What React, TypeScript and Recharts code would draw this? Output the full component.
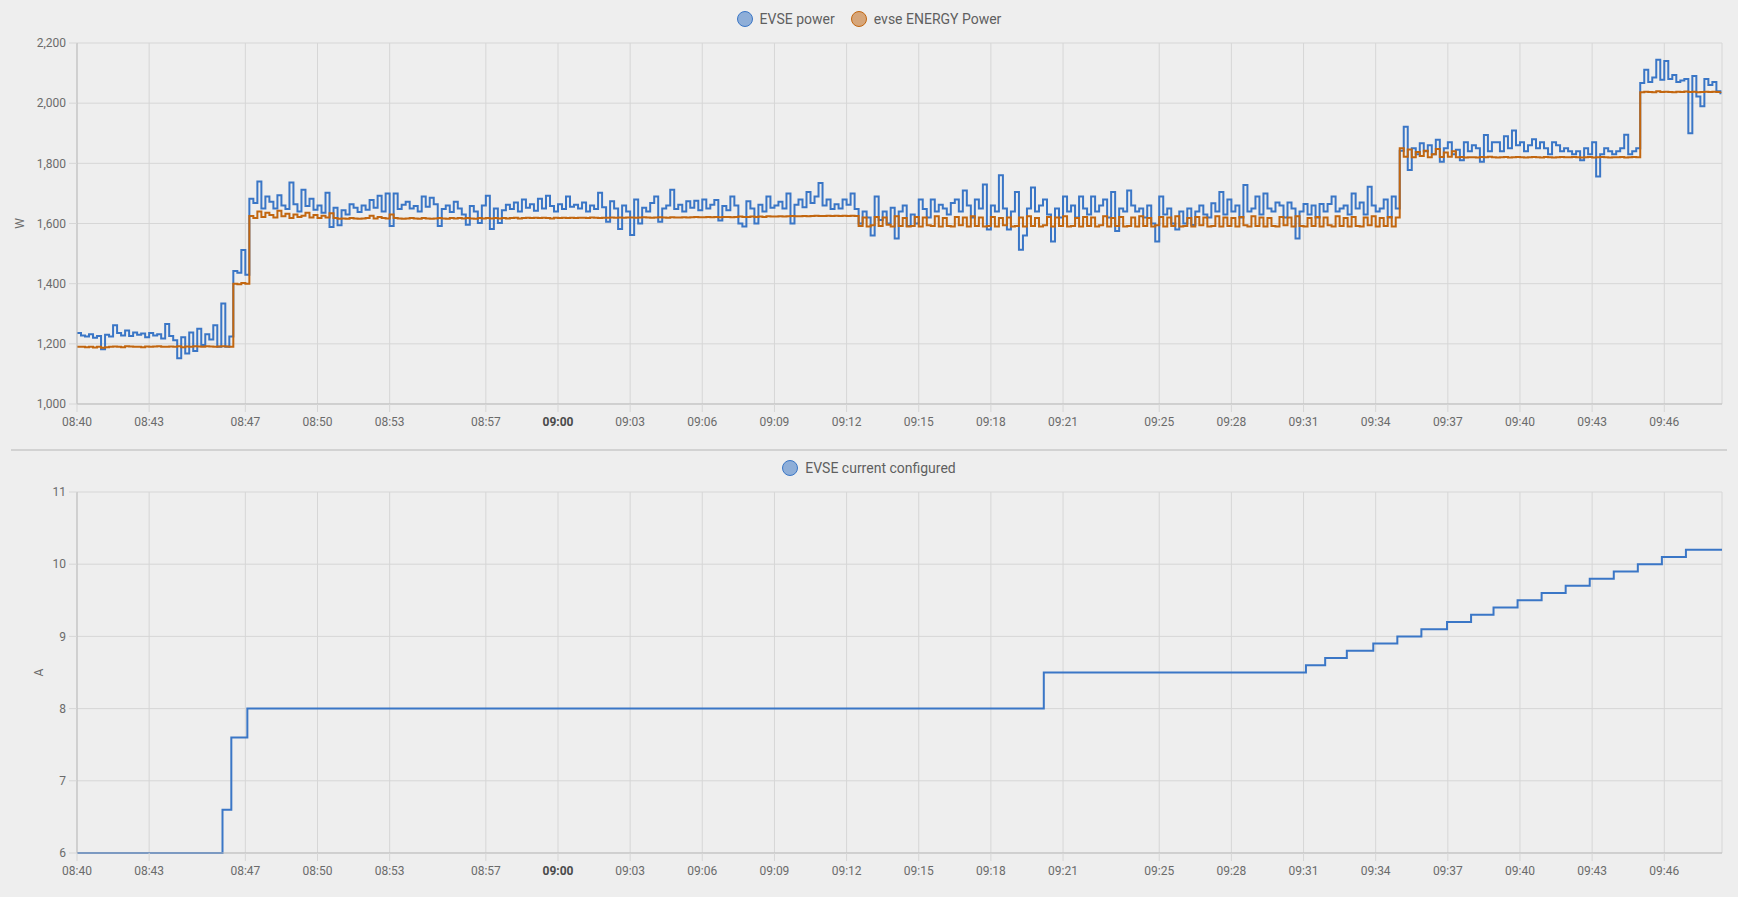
import React from "react";
import { LineChart, Line, XAxis, YAxis, CartesianGrid } from "recharts";

// --- data -------------------------------------------------------------------

// x axis tick labels (time of day)
const timeTickLabels = [
  "08:40", "08:43", "08:47", "08:50", "08:53", "08:57", "09:00", "09:03", "09:06", "09:09", "09:12",
  "09:15", "09:18", "09:21", "09:25", "09:28", "09:31", "09:34", "09:37", "09:40", "09:43", "09:46",
];
const powerTicks = [1000, 1200, 1400, 1600, 1800, 2000, 2200];
const currentTicks = [6, 7, 8, 9, 10, 11];

// power samples, one every 10 s starting 08:40:00 (six per row = one minute)
const SAMPLE_START = "08:40:00";
const SAMPLE_SECONDS = 10;
const AXIS_END = "09:48:24";

const evsePower = [
  1236, 1228, 1224, 1232, 1220, 1226,
  1182, 1230, 1224, 1262, 1236, 1228,
  1244, 1226, 1238, 1230, 1234, 1222,
  1236, 1228, 1232, 1218, 1266, 1226,
  1212, 1152, 1222, 1168, 1238, 1176,
  1250, 1196, 1232, 1214, 1262, 1190,
  1334, 1190, 1224, 1442, 1436, 1512,
  1430, 1682, 1668, 1740, 1650, 1690,
  1672, 1650, 1694, 1660, 1648, 1736,
  1664, 1640, 1712, 1658, 1682, 1646,
  1660, 1636, 1702, 1588, 1652, 1594,
  1644, 1630, 1664, 1652, 1638, 1660,
  1646, 1678, 1652, 1692, 1640, 1700,
  1592, 1700, 1648, 1662, 1672, 1650,
  1658, 1640, 1690, 1656, 1686, 1664,
  1592, 1648, 1660, 1638, 1672, 1650,
  1630, 1596, 1658, 1640, 1602, 1660,
  1692, 1582, 1650, 1602, 1644, 1662,
  1648, 1670, 1640, 1680, 1652, 1664,
  1642, 1682, 1650, 1692, 1658, 1640,
  1664, 1648, 1690, 1656, 1662, 1650,
  1670, 1640, 1660, 1648, 1702, 1654,
  1606, 1674, 1650, 1582, 1660, 1640,
  1562, 1680, 1600, 1652, 1640, 1668,
  1690, 1606, 1650, 1660, 1712, 1648,
  1662, 1640, 1674, 1652, 1676, 1644,
  1680, 1650, 1662, 1678, 1610, 1658,
  1644, 1690, 1660, 1600, 1590, 1674,
  1650, 1600, 1662, 1640, 1690, 1652,
  1660, 1672, 1650, 1700, 1600, 1662,
  1680, 1654, 1705, 1668, 1690, 1735,
  1660, 1680, 1648, 1664, 1650, 1680,
  1662, 1700, 1648, 1600, 1640, 1620,
  1560, 1690, 1612, 1640, 1600, 1652,
  1550, 1640, 1660, 1592, 1630, 1600,
  1680, 1648, 1620, 1680, 1640, 1662,
  1650, 1630, 1668, 1680, 1640, 1710,
  1660, 1620, 1680, 1650, 1730, 1580,
  1660, 1640, 1760, 1650, 1580, 1640,
  1705, 1513, 1560, 1650, 1720, 1640,
  1660, 1680, 1630, 1540, 1650, 1620,
  1690, 1640, 1660, 1620, 1690, 1650,
  1630, 1690, 1640, 1660, 1680, 1620,
  1705, 1575, 1650, 1640, 1710, 1660,
  1640, 1650, 1620, 1660, 1600, 1540,
  1690, 1630, 1650, 1600, 1580, 1640,
  1600, 1650, 1595, 1640, 1660, 1630,
  1620, 1667, 1640, 1705, 1630, 1680,
  1640, 1660, 1620, 1728, 1640, 1650,
  1690, 1630, 1700, 1650, 1640, 1670,
  1660, 1620, 1670, 1650, 1550, 1640,
  1665, 1630, 1660, 1620, 1665, 1640,
  1665, 1690, 1640, 1650, 1660, 1630,
  1700, 1650, 1670, 1630, 1722, 1660,
  1640, 1650, 1680, 1620, 1690, 1650,
  1842, 1922, 1778, 1850, 1830, 1867,
  1840, 1860, 1830, 1878, 1805, 1850,
  1870, 1830, 1845, 1810, 1870, 1840,
  1860, 1850, 1805, 1894, 1840, 1870,
  1870, 1840, 1890, 1850, 1909, 1860,
  1870, 1840, 1860, 1880, 1850, 1870,
  1850, 1830, 1870, 1860, 1840, 1850,
  1840, 1830, 1840, 1810, 1850, 1830,
  1870, 1756, 1830, 1850, 1840, 1830,
  1840, 1850, 1895, 1830, 1840, 1850,
  2067, 2111, 2070, 2085, 2144, 2078,
  2140, 2080, 2094, 2070, 2075, 2080,
  1900, 2090, 2022, 1990, 2080, 2060,
  2070, 2040, 2030,
];

const energyPower = [
  1190, 1190, 1189, 1190, 1188, 1190,
  1187, 1189, 1190, 1191, 1190, 1189,
  1192, 1191, 1190, 1190, 1189, 1191,
  1190, 1191, 1192, 1190, 1190, 1191,
  1190, 1192, 1189, 1191, 1190, 1192,
  1191, 1190, 1192, 1191, 1190, 1191,
  1192, 1191, 1190, 1400, 1398, 1402,
  1400, 1625, 1618, 1640, 1622, 1636,
  1628, 1620, 1642, 1624, 1632, 1618,
  1630, 1622, 1626, 1636, 1620, 1628,
  1618, 1626, 1620, 1634, 1618, 1616,
  1617, 1616, 1618, 1617, 1616, 1617,
  1618, 1626, 1617, 1622, 1618, 1617,
  1630, 1618, 1617, 1616, 1617, 1618,
  1617, 1616, 1618, 1617, 1616, 1617,
  1618, 1617, 1616, 1618, 1617, 1618,
  1617, 1618, 1617, 1616, 1618, 1617,
  1618, 1617, 1618, 1617, 1618, 1617,
  1618, 1619, 1617, 1618, 1619, 1618,
  1619, 1618, 1619, 1618, 1617, 1619,
  1618, 1619, 1618, 1619, 1618, 1619,
  1619, 1618, 1620, 1619, 1618, 1619,
  1619, 1620, 1619, 1620, 1619, 1620,
  1620, 1619, 1620, 1621, 1620, 1619,
  1620, 1621, 1620, 1619, 1621, 1620,
  1620, 1621, 1620, 1621, 1622, 1621,
  1621, 1622, 1621, 1622, 1621, 1622,
  1622, 1621, 1622, 1623, 1622, 1622,
  1623, 1622, 1623, 1622, 1624, 1623,
  1623, 1624, 1623, 1624, 1625, 1624,
  1624, 1625, 1624, 1625, 1626, 1625,
  1625, 1626, 1625, 1626, 1625, 1626,
  1625, 1626, 1625, 1592, 1620, 1590,
  1594, 1622, 1592, 1620, 1596, 1590,
  1624, 1592, 1618, 1590, 1592, 1622,
  1590, 1620, 1594, 1592, 1624, 1590,
  1618, 1592, 1590, 1622, 1594, 1620,
  1590, 1624, 1592, 1620, 1590, 1592,
  1622, 1590, 1618, 1594, 1620, 1590,
  1592, 1620, 1590, 1624, 1592, 1618,
  1590, 1594, 1622, 1590, 1620, 1592,
  1624, 1590, 1592, 1618, 1590, 1622,
  1592, 1620, 1590, 1594, 1624, 1590,
  1618, 1592, 1622, 1590, 1592, 1620,
  1590, 1624, 1592, 1618, 1590, 1594,
  1622, 1590, 1620, 1592, 1624, 1590,
  1592, 1618, 1590, 1622, 1594, 1620,
  1590, 1592, 1624, 1590, 1620, 1592,
  1618, 1590, 1622, 1594, 1590, 1624,
  1592, 1620, 1590, 1618, 1592, 1590,
  1622, 1594, 1620, 1590, 1624, 1592,
  1590, 1618, 1592, 1622, 1590, 1620,
  1594, 1590, 1624, 1592, 1618, 1590,
  1622, 1592, 1590, 1620, 1594, 1624,
  1590, 1618, 1592, 1622, 1590, 1620,
  1850, 1822, 1846, 1820, 1838, 1824,
  1842, 1820, 1830, 1848, 1821, 1836,
  1822, 1840, 1820, 1821, 1819, 1820,
  1820, 1819, 1821, 1820, 1822, 1820,
  1819, 1820, 1821, 1819, 1820, 1821,
  1820, 1819, 1820, 1821, 1820, 1819,
  1821, 1820, 1819, 1820, 1821, 1820,
  1820, 1821, 1820, 1819, 1820, 1821,
  1819, 1820, 1821, 1820, 1819, 1820,
  1820, 1821, 1819, 1820, 1821, 1820,
  2036, 2038, 2037, 2036, 2040, 2037,
  2038, 2037, 2036, 2038, 2037, 2039,
  2037, 2038, 2036, 2037, 2038, 2037,
  2038, 2037, 2038,
];

// configured charging current: time of each change and the new value
const currentTimes = [
  "08:40:00", "08:46:03", "08:46:25", "08:47:05", "09:20:12", "09:31:06", "09:31:54", "09:32:48",
  "09:33:54", "09:34:54", "09:35:54", "09:36:58", "09:37:58", "09:38:54", "09:39:54", "09:40:54",
  "09:41:54", "09:42:54", "09:43:54", "09:44:54", "09:45:54", "09:46:54", "09:48:24",
];
const currentValues = [
  6, 6.6, 7.6, 8, 8.5, 8.6, 8.7, 8.8,
  8.9, 9, 9.1, 9.2, 9.3, 9.4, 9.5, 9.6,
  9.7, 9.8, 9.9, 10, 10.1, 10.2, 10.2,
];

// --- helpers ----------------------------------------------------------------

// clock string -> minutes after the sample start
const toMin = (s: string) => {
  const [h, m, sec = "0"] = s.split(":");
  const base = SAMPLE_START.split(":").map(Number);
  return Number(h) * 60 + Number(m) + Number(sec) / 60 - (base[0] * 60 + base[1]);
};
const fmtTime = (min: number) => {
  const base = SAMPLE_START.split(":").map(Number);
  const total = Math.round(base[0] * 60 + base[1] + min);
  const h = Math.floor(total / 60);
  const m = total % 60;
  return `${String(h).padStart(2, "0")}:${String(m).padStart(2, "0")}`;
};

const timeTicks = timeTickLabels.map(toMin);
const xDomain = [0, toMin(AXIS_END)];

const powerRows = evsePower.map((v, i) => ({
  t: (i * SAMPLE_SECONDS) / 60,
  evse: v,
  energy: energyPower[i],
}));
const currentRows = currentTimes.map((s, i) => ({ t: toMin(s), amps: currentValues[i] }));

const BLUE = "#3a76c6";
const ORANGE = "#c2660f";
const GRID = "#d6d6d6";
const AXIS = "#bdbdbd";
const TEXT = "#6b6b6b";

// --- small components -------------------------------------------------------

const TimeTick = ({ x, y, payload }: any) => {
  const label = fmtTime(payload.value);
  const bold = label === "09:00";
  return (
    <text x={x} y={y} dy={12} textAnchor="middle" fontSize={12}
      fill={bold ? "#4a4a4a" : TEXT} fontWeight={bold ? 700 : 400}>
      {label}
    </text>
  );
};

const AxisTitle = ({ viewBox, text, at }: any) => {
  const cy = viewBox ? viewBox.y + viewBox.height / 2 : 200;
  return (
    <text x={at} y={cy} transform={`rotate(-90, ${at}, ${cy})`} textAnchor="middle"
      dominantBaseline="central" fontSize={12} fill={TEXT}>
      {text}
    </text>
  );
};

const LegendRow = ({ items, top }: { items: { name: string; color: string; fill: string }[]; top: number }) => (
  <div style={{ position: "absolute", top, left: 0, width: 1738, display: "flex", justifyContent: "center", gap: 16, fontSize: 14, color: "#5f5f5f", lineHeight: "18px" }}>
    {items.map((it) => (
      <div key={it.name} style={{ display: "flex", alignItems: "center", gap: 7 }}>
        <span style={{ width: 14, height: 14, borderRadius: "50%", background: it.fill, border: `1.5px solid ${it.color}`, display: "inline-block" }} />
        <span>{it.name}</span>
      </div>
    ))}
  </div>
);

const tickStyle = { fill: TEXT, fontSize: 12 };

export default function App() {
  return (
    <div style={{ position: "fixed", inset: 0, background: "#eeeeee", fontFamily: "Roboto, sans-serif" }}>
      <LegendRow top={10} items={[
        { name: "EVSE power", color: BLUE, fill: "#8eaed8" },
        { name: "evse ENERGY Power", color: ORANGE, fill: "#d6a67a" },
      ]} />
      <div style={{ position: "absolute", top: 0, left: 0 }}>
        <LineChart width={1738} height={450} data={powerRows} margin={{ top: 43, right: 16, bottom: 16, left: 0 }}>
          <CartesianGrid stroke={GRID} />
          <XAxis dataKey="t" type="number" domain={xDomain} ticks={timeTicks} interval={0}
            tick={<TimeTick />} tickSize={8} tickMargin={2} height={30}
            axisLine={{ stroke: AXIS }} tickLine={{ stroke: GRID }} />
          <YAxis domain={[1000, 2200]} ticks={powerTicks} interval={0} width={77}
            tickFormatter={(v: number) => v.toLocaleString("en-US")} tick={tickStyle}
            tickSize={8} tickMargin={3} axisLine={{ stroke: AXIS }} tickLine={{ stroke: GRID }}
            label={<AxisTitle text="W" at={20} />} />
          <Line type="stepAfter" dataKey="evse" stroke={BLUE} strokeWidth={2} dot={false} activeDot={false} isAnimationActive={false} />
          <Line type="stepAfter" dataKey="energy" stroke={ORANGE} strokeWidth={2} dot={false} activeDot={false} isAnimationActive={false} />
        </LineChart>
      </div>

      <div style={{ position: "absolute", top: 449, left: 11, width: 1716, height: 2, background: "#d2d2d2" }} />

      <LegendRow top={459} items={[{ name: "EVSE current configured", color: BLUE, fill: "#8eaed8" }]} />
      <div style={{ position: "absolute", top: 450, left: 0 }}>
        <LineChart width={1738} height={447} data={currentRows} margin={{ top: 42, right: 16, bottom: 14, left: 0 }}>
          <CartesianGrid stroke={GRID} />
          <XAxis dataKey="t" type="number" domain={xDomain} ticks={timeTicks} interval={0}
            tick={<TimeTick />} tickSize={8} tickMargin={2} height={30}
            axisLine={{ stroke: AXIS }} tickLine={{ stroke: GRID }} />
          <YAxis domain={[6, 11]} ticks={currentTicks} interval={0} width={77} tick={tickStyle}
            tickSize={8} tickMargin={3} axisLine={{ stroke: AXIS }} tickLine={{ stroke: GRID }}
            label={<AxisTitle text="A" at={39} />} />
          <Line type="stepAfter" dataKey="amps" stroke={BLUE} strokeWidth={2} dot={false} activeDot={false} isAnimationActive={false} />
        </LineChart>
      </div>
    </div>
  );
}
